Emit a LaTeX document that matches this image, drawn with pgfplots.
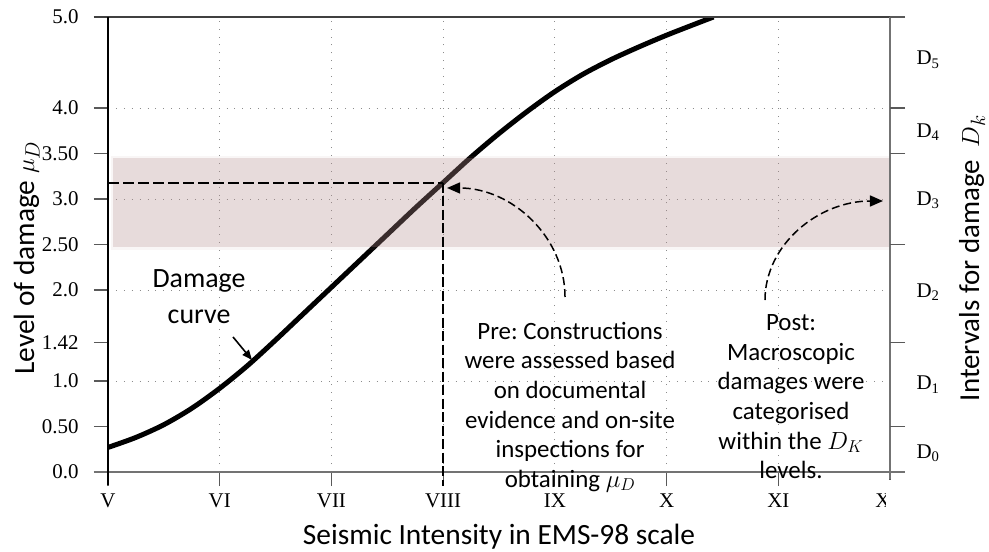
\documentclass[border=0pt]{standalone}
\usepackage{fontspec}
\setmainfont{Carlito}
\newfontfamily\tickfont{Liberation Serif}
\usepackage{pgfplots}
\pgfplotsset{compat=1.18}
\usetikzlibrary{arrows.meta}
\definecolor{bandc}{RGB}{181,141,141}
\frenchspacing
\begin{document}
\begin{tikzpicture}
\path[use as bounding box] (0,0) rectangle (989bp,552bp);
\begin{axis}[
  at={(108bp,80bp)}, anchor=south west,
  width=782bp, height=455bp, scale only axis,
  xmin=5, xmax=12, ymin=0, ymax=5,
  axis x line*=bottom, axis y line*=left,
  axis line style={draw=none},
  xtick={5,6,7,8,9,10,11,12},
  xticklabels={V,VI,VII,VIII,IX,X,XI,XII},
  ytick={0,0.5,1.42,2.5,3.5,5},
  yticklabels={0.0,0.50,1.42,2.50,3.50,5.0},
  extra y ticks={1,2,3,4},
  extra y tick labels={1.0,2.0,3.0,4.0},
  extra y tick style={ymajorgrids=true},
  xmajorgrids=true,
  major grid style={draw=black!45, line width=0.9bp, dash pattern=on 0.9bp off 7bp},
  tick align=outside,
  major tick length=14bp,
  tick style={black!65, line width=1.1bp},
  ticklabel style={font=\tickfont\fontsize{21}{21}\selectfont},
  yticklabel style={xshift=-12bp},
  xticklabel style={yshift=-4bp},
  xlabel={Seismic Intensity in EMS-98 scale},
  ylabel={Level of damage $\mu_D$},
  label style={font=\fontsize{29.5}{33}\selectfont},
  xlabel style={at={(axis description cs:0.5,-0.143)}, anchor=center},
  ylabel style={at={(axis description cs:-0.104,0.47)}, anchor=center},
  clip mode=individual,
]
% damage curve
\addplot[black, line width=5bp, smooth] coordinates {
 (5.00,0.27) (5.25,0.38) (5.50,0.52) (5.75,0.70) (6.00,0.92) (6.25,1.17)
 (6.50,1.45) (6.75,1.74) (7.00,2.03) (7.25,2.32) (7.50,2.61) (7.75,2.90)
 (8.00,3.18) (8.25,3.46) (8.50,3.72) (8.75,3.96) (9.00,4.18) (9.25,4.37)
 (9.50,4.53) (9.75,4.67) (10.00,4.80) (10.25,4.92) (10.42,5.00)};
% band D3
\fill[bandc, fill opacity=0.08] (axis cs:5.03,2.445) rectangle (axis cs:12,3.475);
\fill[bandc, fill opacity=0.26] (axis cs:5.045,2.47) rectangle (axis cs:12,3.45);
% axis lines
\draw[black!75, line width=1.2bp] ([xshift=-14bp]axis cs:5,5) -- ([xshift=15bp]axis cs:12,5);
\draw[black!55, line width=1.5bp] ([xshift=-14bp]axis cs:5,0) -- ([xshift=15bp]axis cs:12,0);
\draw[black!55, line width=1.3bp] (axis cs:12,5) -- ([yshift=-7bp]axis cs:12,0);
\draw[black, line width=1.1bp] (axis cs:5,5) -- ([yshift=-13bp]axis cs:5,0);
% dashed reading lines
\draw[black, line width=1.8bp, dash pattern=on 11bp off 4bp] (axis cs:5,3.18) -- (axis cs:8,3.18);
\draw[black, line width=1.8bp, dash pattern=on 10bp off 3.5bp] (axis cs:8,3.18) -- ([yshift=-14bp]axis cs:8,0);
% curved arrows
\draw[black, line width=1.5bp, dash pattern=on 8bp off 4bp, -{Triangle[length=13bp,width=11bp]}]
  (axis cs:9.091,1.923) .. controls (axis cs:9.091,2.582) and (axis cs:8.616,3.121) .. (axis cs:8.035,3.121);
\draw[black, line width=1.5bp, dash pattern=on 8bp off 4bp, -{Triangle[length=13bp,width=11bp]}]
  (axis cs:10.881,1.890) .. controls (axis cs:10.881,2.495) and (axis cs:11.356,2.978) .. (axis cs:11.937,2.978);
\draw[black, line width=1.6bp, -{Triangle[length=10bp,width=8bp]}] (axis cs:6.119,1.484) -- (axis cs:6.289,1.231);
% texts
\node[align=center, anchor=north, inner sep=0, font=\fontsize{28}{37}\selectfont] at (axis cs:5.815,2.231) {Damage\\curve};
\node[align=center, anchor=north, inner sep=0, font=\fontsize{25}{29.7}\selectfont] at (axis cs:9.136,1.65)
  {Pre: Constructions\\were assessed based\\on documental\\evidence and on-site\\inspections for\\obtaining $\mu_D$};
\node[align=center, anchor=north, inner sep=0, font=\fontsize{25}{29.7}\selectfont] at (axis cs:11.114,1.73)
  {Post:\\Macroscopic\\damages were\\categorised\\within the $D_K$\\levels.};
\end{axis}
\begin{axis}[
  at={(108bp,80bp)}, anchor=south west,
  width=782bp, height=455bp, scale only axis,
  xmin=5, xmax=12, ymin=0, ymax=5,
  axis y line*=right, axis x line=none,
  axis line style={draw=none},
  ytick={0.5,1.42,2.5,3.5,4,5},
  yticklabels={,,,,,},
  extra y ticks={0.21,0.96,1.98,2.99,3.73,4.53},
  extra y tick labels={D\textsubscript{0},D\textsubscript{1},D\textsubscript{2},D\textsubscript{3},D\textsubscript{4},D\textsubscript{5}},
  extra y tick style={major tick length=0pt, yticklabel style={xshift=23bp}},
  tick align=outside,
  major tick length=15bp,
  tick style={black!65, line width=1.1bp},
  ticklabel style={font=\tickfont\fontsize{21}{21}\selectfont},
  ylabel={Intervals for damage\ \ $D_k$},
  ylabel style={font=\fontsize{29}{32}\selectfont, at={(axis description cs:1.105,0.47)}, anchor=center},
]
\end{axis}
\fill[white] (886bp,37bp) rectangle (989bp,72bp);
\end{tikzpicture}
\end{document}
